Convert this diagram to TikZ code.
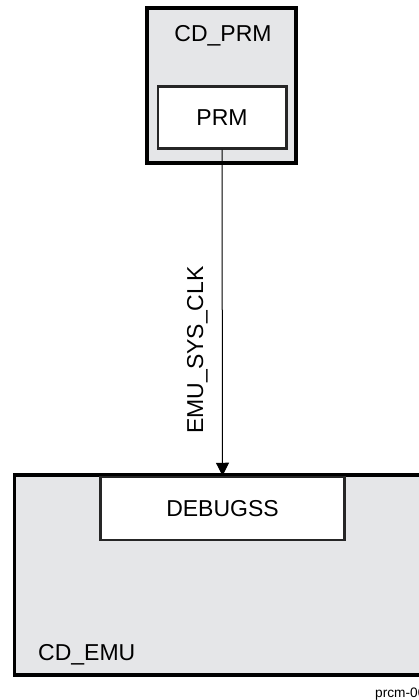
\documentclass[tikz,border=0pt]{standalone}
\usepackage{fontspec}
\setmainfont{Liberation Sans}
\usetikzlibrary{arrows.meta, positioning}
\definecolor{domaingray}{HTML}{E5E6E8}

\begin{document}
\begin{tikzpicture}[x=1pt, y=-1pt,
  clkdomain/.style={draw=black, fill=domaingray, line width=3.5pt, inner sep=0pt},
  modbox/.style={draw=black!85, fill=white, line width=2.5pt, inner sep=0pt, font=\fontsize{23}{27}\selectfont},
  lbl/.style={inner sep=0pt, font=\fontsize{23}{27}\selectfont}
]
  \useasboundingbox (0,0) rectangle (419,700);

  % clock domain CD_PRM
  \node[clkdomain, minimum width=149pt, minimum height=155pt] (cdprm) at (221.5,85.5) {};
  \node[lbl, anchor=base] (cdprmlbl) at (223,42) {CD\_PRM};
  \node[modbox, minimum width=128.5pt, minimum height=62pt] (prm) at (222,117.5) {PRM};

  % clock domain CD_EMU
  \node[clkdomain, minimum width=425.5pt, minimum height=200pt] (cdemu) at (227,575) {};
  \node[lbl, anchor=base west] (cdemulbl) at (38,660) {CD\_EMU};
  \node[modbox, minimum width=244pt, minimum height=63pt] (debugss) at (222.5,508.5) {DEBUGSS};

  \draw[-{Triangle[width=13pt, length=13pt]}, line width=1pt] (prm.south) -- (debugss.north);
  \node[lbl, rotate=90, anchor=base] (clklbl) at (203,350) {EMU\_SYS\_CLK};

  \node[inner sep=0pt, anchor=base west, font=\fontsize{13.7}{16}\selectfont] (figid) at (375,697) {prcm-006};
\end{tikzpicture}
\end{document}
